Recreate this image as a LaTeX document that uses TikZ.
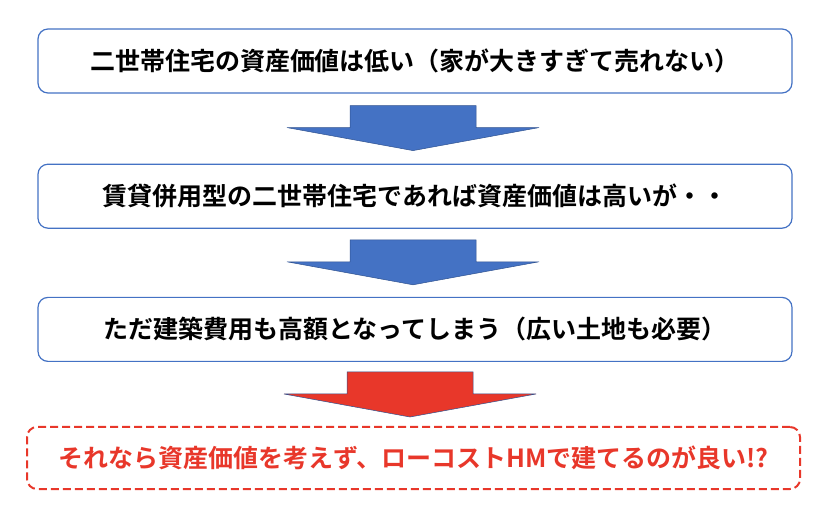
\documentclass[tikz,border=0pt]{standalone}
\usepackage{fontspec}
\setmainfont{Noto Sans CJK JP}[BoldFont={Noto Sans CJK JP Bold}]
\usetikzlibrary{positioning, calc}
\definecolor{boxline}{HTML}{4472C4}
\definecolor{arrowblue}{HTML}{4472C4}
\definecolor{arrowline}{HTML}{2F528F}
\definecolor{alertred}{HTML}{E8372A}
\tikzset{
    x=1pt, y=-1pt, % one unit is one pixel of the reference
    stepnode/.style={draw=boxline, line width=1.2pt, rounded corners=10pt, fill=white,
        minimum width=754pt, minimum height=64pt, font=\fontsize{25}{28}\selectfont\bfseries}, % black boxes
    alertnode/.style={draw=alertred, line width=2pt, dash pattern=on 8pt off 4pt, rounded corners=10pt,
        minimum width=773pt, minimum height=62pt, text=alertred, font=\fontsize{25}{28}\selectfont\bfseries}, % last box
    blockarrow/.style={fill=#1, draw=arrowline, line width=0.5pt}, % the big arrows
}
% block arrow whose shaft starts at coordinate #1
\newcommand{\bigarrow}[2]{%
    \draw[blockarrow=#2] (#1) ++(-63,0) -- ++(126,0) -- ++(0,22) -- ++(63,0)
        -- ($(#1)+(0,45)$) -- ($(#1)+(-126,22)$) -- ($(#1)+(-63,22)$) -- cycle;
}
\begin{document}
\begin{tikzpicture}
    \useasboundingbox (0,0) rectangle (828,521);
    \node[stepnode] (b1) at (415,61) {二世帯住宅の資産価値は低い（家が大きすぎて売れない）};
    \node[stepnode, below=70pt of b1] (b2) {賃貸併用型の二世帯住宅であれば資産価値は高いが・・};
    \node[stepnode, below=68pt of b2] (b3) {ただ建築費用も高額となってしまう（広い土地も必要）};
    \node[alertnode] (b4) at (413.5,458) {それなら資産価値を考えず、ローコストHMで建てるのが良い!?};

    \coordinate (a1) at ($(b1.south)+(-2,12)$);
    \coordinate (a2) at ($(b2.south)+(-2,11)$);
    \coordinate (a3) at ($(b3.south)+(-5,10)$);
    \bigarrow{a1}{arrowblue}
    \bigarrow{a2}{arrowblue}
    \bigarrow{a3}{alertred}
\end{tikzpicture}
\end{document}
